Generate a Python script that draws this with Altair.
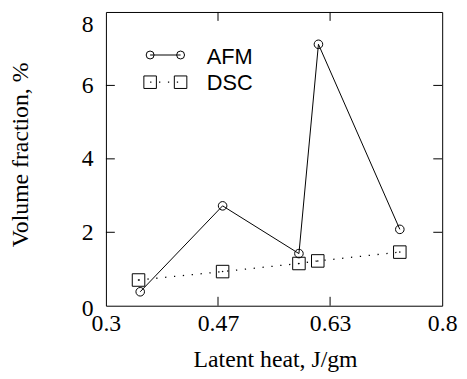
import altair as alt
import pandas as pd

# ---- data ----
afm_x = [0.351, 0.4735, 0.587, 0.616, 0.737]
afm_y = [0.38, 2.72, 1.42, 7.12, 2.08]
dsc_x = [0.3485, 0.4735, 0.587, 0.615, 0.737]
dsc_y = [0.70, 0.93, 1.15, 1.22, 1.46]

x_tick_values = [0.3, 0.46667, 0.63333, 0.8]
y_tick_values = [0, 2, 4, 6, 8]
x_inner_ticks = [0.46667, 0.63333]
y_inner_ticks = [2, 4, 6]
legend_labels = ["AFM", "DSC"]

afm = pd.DataFrame({"x": afm_x, "y": afm_y})
dsc = pd.DataFrame({"x": dsc_x, "y": dsc_y})
xt = pd.DataFrame({"v": x_inner_ticks})
yt = pd.DataFrame({"v": y_inner_ticks})
one = pd.DataFrame({"k": [0]})

W, H = 340, 297
serif = "Liberation Serif"
sans = "Liberation Sans"

xs = alt.Scale(domain=[0.3, 0.8], nice=False, zero=False)
ys = alt.Scale(domain=[0, 8], nice=False, zero=False)

xaxis = alt.Axis(
    values=x_tick_values, format=".2~f", title="Latent heat, J/gm",
    grid=False, ticks=False, domain=False, labelFlush=False,
    labelFont=serif, labelFontSize=24, labelColor="black",
    labelPadding=6, labelBaseline="top",
    titleFont=serif, titleFontSize=24, titleFontWeight="normal",
    titleColor="black", titleBaseline="alphabetic",
    titleX=171, titleY=61, titleAlign="center",
)
yaxis = alt.Axis(
    values=y_tick_values, format="d", title="Volume fraction, %",
    grid=False, ticks=False, domain=False, labelFlush=False,
    labelFont=serif, labelFontSize=24, labelColor="black",
    labelPadding=13, labelBaseline="middle", labelAlign="right",
    labelOffset={"condition": [{"test": "datum.value == 8", "value": 13},
                               {"test": "datum.value == 0", "value": 3}],
                 "value": 0},
    titleFont=serif, titleFontSize=24, titleFontWeight="normal",
    titleColor="black", titleBaseline="alphabetic", titleAngle=270,
    titleX=-79, titleY=144, titleAlign="center",
)

X = alt.X("x:Q", scale=xs, axis=xaxis)
Y = alt.Y("y:Q", scale=ys, axis=yaxis)
XV = alt.X("v:Q", scale=xs, axis=xaxis)
YV = alt.Y("v:Q", scale=ys, axis=yaxis)

dash = [1.3, 7.7]

afm_line = alt.Chart(afm).mark_line(color="black", strokeWidth=1).encode(x=X, y=Y)
afm_pts = alt.Chart(afm).mark_point(shape="circle", filled=False, size=75,
                                    color="black", strokeWidth=1, opacity=1).encode(x=X, y=Y)
dsc_line = alt.Chart(dsc).mark_line(color="black", strokeWidth=1.3,
                                    strokeDash=dash).encode(x=X, y=Y)
dsc_pts = alt.Chart(dsc).mark_point(shape="square", filled=False, size=160,
                                    color="black", strokeWidth=1, opacity=1).encode(x=X, y=Y)
dsc_dots = alt.Chart(dsc).mark_circle(size=2.5, color="black", opacity=1).encode(x=X, y=Y)

# inward ticks on all four sides
rule_kw = dict(color="black", strokeWidth=1)
t_left = alt.Chart(yt).mark_rule(**rule_kw).encode(y=YV, x=alt.value(0), x2=alt.value(9))
t_right = alt.Chart(yt).mark_rule(**rule_kw).encode(y=YV, x=alt.value(W - 9), x2=alt.value(W))
t_bot = alt.Chart(xt).mark_rule(**rule_kw).encode(x=XV, y=alt.value(H - 9), y2=alt.value(H))
t_top = alt.Chart(xt).mark_rule(**rule_kw).encode(x=XV, y=alt.value(0), y2=alt.value(9))

# legend
lx1, lx2, ltx = 44.7, 75.5, 102
ly1, ly2 = 43.5, 71
leg = [
    alt.Chart(one).mark_rule(color="black", strokeWidth=1).encode(
        x=alt.value(lx1), x2=alt.value(lx2), y=alt.value(ly1)),
    alt.Chart(one).mark_point(shape="circle", filled=False, size=64, color="black",
                              strokeWidth=1, opacity=1).encode(x=alt.value(lx1), y=alt.value(ly1)),
    alt.Chart(one).mark_point(shape="circle", filled=False, size=64, color="black",
                              strokeWidth=1, opacity=1).encode(x=alt.value(lx2), y=alt.value(ly1)),
    alt.Chart(one).mark_text(font=sans, fontSize=22, align="left", baseline="middle",
                             color="black").encode(x=alt.value(ltx), y=alt.value(ly1 + 2),
                                                   text=alt.value(legend_labels[0])),
    alt.Chart(one).mark_rule(color="black", strokeWidth=1.3, strokeDash=dash).encode(
        x=alt.value(lx1), x2=alt.value(lx2), y=alt.value(ly2)),
    alt.Chart(one).mark_point(shape="square", filled=False, size=160, color="black",
                              strokeWidth=1, opacity=1).encode(x=alt.value(lx1), y=alt.value(ly2)),
    alt.Chart(one).mark_point(shape="square", filled=False, size=160, color="black",
                              strokeWidth=1, opacity=1).encode(x=alt.value(lx2), y=alt.value(ly2)),
    alt.Chart(one).mark_text(font=sans, fontSize=22, align="left", baseline="middle",
                             color="black").encode(x=alt.value(ltx), y=alt.value(ly2 + 1),
                                                   text=alt.value(legend_labels[1])),
]

chart = alt.layer(
    t_left, t_right, t_bot, t_top,
    dsc_line, afm_line, dsc_pts, dsc_dots, afm_pts, *leg
).properties(
    width=W, height=H,
    autosize=alt.AutoSizeParams(type="none"),
    padding={"left": 99, "top": 2, "right": 17, "bottom": 66},
).configure_view(
    stroke="black", strokeWidth=1
).configure_axis(
    labelFont=serif, titleFont=serif, labelFontSize=24, titleFontSize=24,
    titleFontWeight="normal", labelColor="black", titleColor="black",
)

chart.save("out.html", embed_options={"renderer": "svg", "actions": False})
